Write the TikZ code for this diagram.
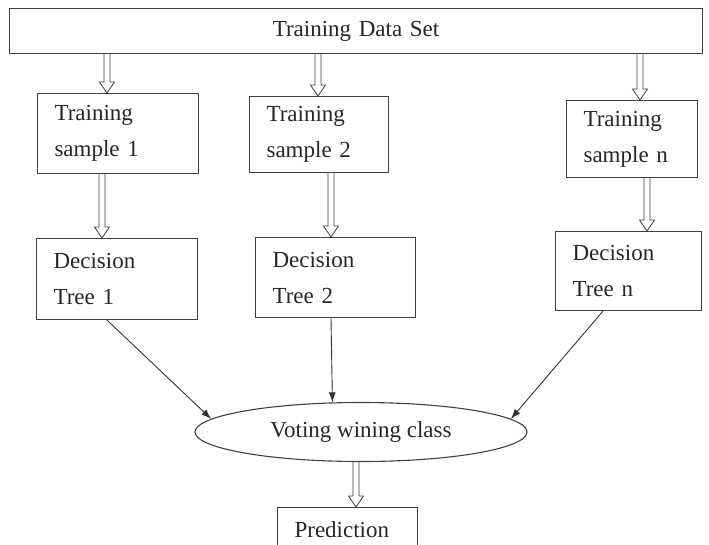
\documentclass[tikz,border=0pt]{standalone}
\usepackage{fontspec}
\setmainfont{Liberation Serif}
\usetikzlibrary{arrows.meta,positioning,shapes.geometric}

\begin{document}
\begin{tikzpicture}[x=1pt,y=-1pt,>={Latex[length=10pt,width=7pt]},
	every node/.style={font=\fontsize{23}{36}\selectfont,text=black!85},
	box/.style 2 args={draw=black!75,line width=1.1pt,anchor=north west,inner xsep=17pt,inner ysep=0pt,text width=#1,minimum height=#2,align=left},
	blk/.style={draw=black!75,line width=0.8pt,to path={
		([xshift=-3pt]\tikztostart) -- ([xshift=-3pt,yshift=11pt]\tikztotarget)
		-- ([xshift=-7.5pt,yshift=11pt]\tikztotarget) -- (\tikztotarget)
		-- ([xshift=7.5pt,yshift=11pt]\tikztotarget) -- ([xshift=3pt,yshift=11pt]\tikztotarget)
		-- ([xshift=3pt]\tikztostart)}}]
	\useasboundingbox (0,0) rectangle (709,544);
	\clip (0,0) rectangle (709,544);

	% x of the hollow arrows
	\coordinate (xs1) at (107,0);
	\coordinate (xs2) at (318,0);
	\coordinate (xsn) at (640,0);
	\coordinate (xd1) at (102,0);
	\coordinate (xd2) at (331,0);
	\coordinate (xdn) at (647,0);
	\coordinate (xt1) at (107,0);
	\coordinate (xtn) at (603,0);
	\coordinate (xv) at (356,0);

	\node[box={659pt}{45pt},align=center] (tds) at (9,8) {Training Data Set};
	\node[box={127pt}{80pt}] (ts1) at (37,93) {Training\\sample 1};
	\node[box={105pt}{76pt}] (ts2) at (249,96) {Training\\sample 2};
	\node[box={97pt}{77pt}] (tsn) at (566,100) {Training\\sample n};
	\node[box={127pt}{81pt}] (dt1) at (36,238) {Decision\\Tree 1};
	\node[box={126pt}{80pt}] (dt2) at (255,237) {Decision\\Tree 2};
	\node[box={112pt}{79pt}] (dtn) at (555,231) {Decision\\Tree n};
	\node[ellipse,draw=black!75,line width=1.1pt,minimum width=332pt,minimum height=59pt,inner sep=0pt] (vote) at (361,432) {Voting wining class};
	\node[box={106pt}{44pt}] (pred) at (277,507) {Prediction};

	\path
	(tds.south -| xs1) edge[blk] (ts1.north -| xs1)
	(tds.south -| xs2) edge[blk] (ts2.north -| xs2)
	(tds.south -| xsn) edge[blk] (tsn.north -| xsn)
	(ts1.south -| xd1) edge[blk] (dt1.north -| xd1)
	(ts2.south -| xd2) edge[blk] (dt2.north -| xd2)
	(tsn.south -| xdn) edge[blk] (dtn.north -| xdn)
	(vote.south -| xv) edge[blk] (pred.north -| xv);

	\path[->,black!80,line width=0.9pt]
	(dt1.south -| xt1) edge (vote.175)
	(dt2.south -| xd2) edge (vote.134)
	(dtn.south -| xtn) edge (vote.5);
\end{tikzpicture}
\end{document}
